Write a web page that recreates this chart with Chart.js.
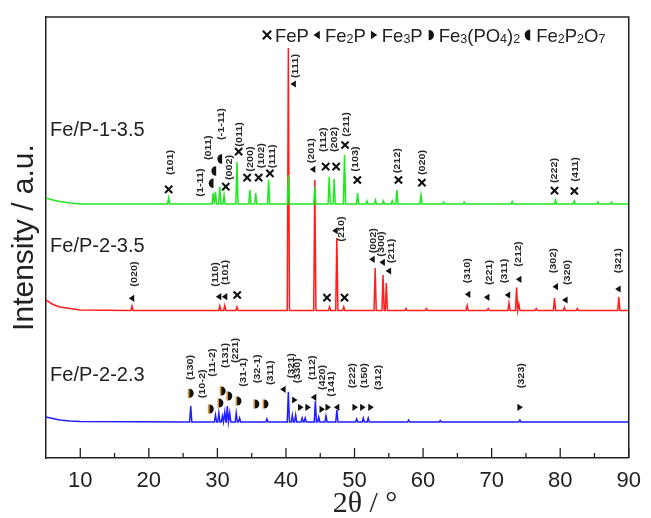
<!DOCTYPE html>
<html><head><meta charset="utf-8">
<script src="https://cdn.jsdelivr.net/npm/chart.js@4.4.1/dist/chart.umd.min.js"></script>
<style>html,body{margin:0;padding:0;background:#fff;} #wrap{width:651px;height:518px;}</style>
</head><body><div id="wrap"><canvas id="c" width="651" height="518"></canvas></div>
<script>
// ================= DATA =================
const sampleNames = ['Fe/P-1-3.5', 'Fe/P-2-3.5', 'Fe/P-2-2.3'];
const sampleLabel2T = [5.6, 5.6, 5.6];
const sampleLabelI = [328, 212, 83];

const xTickValues = [10, 20, 30, 40, 50, 60, 70, 80, 90];
const xMinorValues = [15, 25, 35, 45, 55, 65, 75, 85];

// background (baseline) knots, 2θ and intensity (a.u.)
const greenBg2T = [5, 6, 7, 8.5, 10, 90];
const greenBgI  = [260, 258, 256.5, 255, 254, 254];
const redBg2T   = [5, 6, 7, 8.5, 10, 90];
const redBgI    = [158, 153.5, 151, 149.5, 148, 147.5];
const blueBg2T  = [5, 6, 7, 8.5, 10, 90];
const blueBgI   = [41, 39.5, 38, 37, 36.5, 36];
const greenBase = 254, redBase = 147.5, blueBase = 36;

// peak positions (2θ) and apex intensity (a.u.)
const greenPeak2T = [22.89, 29.39, 29.72, 30.35, 30.97, 32.85, 34.73, 35.59, 37.47, 40.35, 44.21, 46.31, 47.03, 48.54, 50.45, 51.8, 53.05, 54.21, 55.5, 56.18, 59.69, 63.0, 66.0, 73.0, 79.31, 82.06, 85.5, 87.5];
const greenPeakI  = [260, 265, 266.3, 271.3, 263, 296, 268, 265, 278, 283, 271, 281, 279, 303, 265, 257, 258, 257, 257, 268, 263, 256, 256, 256.5, 258, 257, 256, 256];

const redPeak2T = [17.55, 30.35, 31.07, 32.85, 40.35, 44.21, 46.37, 47.42, 48.43, 53.01, 54.16, 54.64, 57.5, 60.5, 66.43, 69.5, 72.53, 73.64, 73.97, 76.5, 79.17, 80.61, 82.5, 88.55];
const redPeakI  = [152, 152, 152.5, 151, 410, 278, 151, 220, 151, 190, 183, 175, 149.5, 149.5, 152.5, 149.5, 155, 170.5, 154, 149.5, 160, 150.5, 149.5, 161];

const bluePeak2T = [26.11, 29.72, 30.21, 30.73, 31.08, 31.45, 31.8, 32.75, 33.24, 37.22, 40.35, 40.93, 41.41, 42.37, 42.81, 44.29, 44.78, 45.84, 47.42, 50.31, 51.28, 52.0, 57.9, 62.5, 74.12];
const bluePeakI  = [52, 43, 45, 42, 46, 52, 45, 45, 40, 39, 66.3, 43, 43, 40, 40, 57, 41, 42, 48, 39, 40, 40, 38, 37.5, 38];

// phase tags: [phase, hkl, marker 2θ, marker I, label 2θ, label I]
const greenTags = [
  ['FeP','(101)',22.89,268.7,23.14,283],
  ['Fe2P2O7','(1-11)',29.14,274.7,27.47,261.3],
  ['Fe2P2O7','(011)',29.53,287,28.67,298],
  ['Fe2P2O7','(-1-11)',30.4,299,30.58,318],
  ['FeP','(002)',31.22,271.3,31.7,278],
  ['FeP','(011)',33.1,306.3,33.24,311.3],
  ['FeP','(200)',34.34,280.3,34.83,286.3],
  ['FeP','(102)',36.02,280.3,36.5,289.7],
  ['FeP','(111)',37.66,284.7,38.05,289.7],
  ['Fe2P','(111)',41.08,374,41.36,380],
  ['Fe2P','(201)',43.92,288.7,43.72,294.7],
  ['FeP','(112)',45.79,291.3,45.5,306],
  ['FeP','(202)',47.32,291.3,47.09,306],
  ['FeP','(211)',48.62,313,48.87,321.3],
  ['FeP','(103)',50.41,278,50.21,286.3],
  ['FeP','(212)',56.41,278,56.33,284.7],
  ['FeP','(020)',59.83,275.3,59.93,283],
  ['FeP','(222)',79.17,267.3,79.17,275],
  ['FeP','(411)',82.06,267,82.3,276.3]
];
const redTags = [
  ['Fe2P','(020)',17.51,159.7,17.84,171.3],
  ['Fe2P','(110)',30.21,161.3,29.72,171.3],
  ['Fe2P','(101)',31.08,161.3,31.22,173],
  ['FeP','',32.89,163,0,0],
  ['FeP','',45.98,160.3,0,0],
  ['FeP','',48.54,160.3,0,0],
  ['Fe2P','(210)',47.18,227.3,48.1,216.3],
  ['Fe2P','(002)',52.58,198.7,52.72,204.7],
  ['Fe2P','(300)',54.06,195.7,53.92,201.3],
  ['Fe2P','(211)',54.97,187,55.36,194.7],
  ['Fe2P','(310)',66.52,163.7,66.52,174.7],
  ['Fe2P','(221)',69.31,160.7,69.65,173],
  ['Fe2P','(311)',72.34,163,71.95,174.7],
  ['Fe2P','(212)',73.98,178.7,73.88,191.3],
  ['Fe2P','(302)',79.31,171.3,79.07,184.7],
  ['Fe2P','(320)',80.71,158,81.0,173],
  ['Fe2P','(321)',88.45,169,88.45,184.7]
];
const blueTags = [
  ['Fe3PO4','(130)',26.17,64.7,26.02,78],
  ['Fe3PO4','(10-2)',29.1,49,27.8,59.7],
  ['Fe3PO4','(11-2)',30.5,55,29.29,81.3],
  ['Fe3PO4','(131)',30.83,67,31.12,90],
  ['Fe3PO4','(221)',31.8,62,32.6,95],
  ['Fe3PO4','(31-1)',33.14,57,33.82,71.3],
  ['Fe3PO4','(32-1)',35.74,54,35.88,74.7],
  ['Fe3PO4','(311)',37.08,54,37.8,73],
  ['Fe2P','(321)',39.59,68.7,40.83,79.7],
  ['Fe3P','(330)',41.26,58,41.65,74.7],
  ['Fe3P','',42.13,50.7,0,0],
  ['Fe3P','',43.2,50.7,0,0],
  ['Fe2P','(112)',44.06,60.7,43.82,78],
  ['Fe3P','(420)',45.26,48.7,45.36,68],
  ['Fe3P','',46.13,50.7,0,0],
  ['Fe2P','(141)',47.42,50.7,46.7,61.3],
  ['Fe3P','(222)',50.06,50.7,49.73,69.7],
  ['Fe3P','(150)',51.18,50.7,51.51,69.7],
  ['Fe3P','(312)',52.37,50.7,53.44,68],
  ['Fe3P','(323)',74.12,50.7,74.36,69.7]
];

// legend entries: phase code and text parts [text, isSubscript]
const legendPhases = ['FeP','Fe2P','Fe3P','Fe3PO4','Fe2P2O7'];
const legendTexts = [
  [['FeP',0]],
  [['Fe',0],['2',1],['P',0]],
  [['Fe',0],['3',1],['P',0]],
  [['Fe',0],['3',1],['(PO',0],['4',1],[')',0],['2',1]],
  [['Fe',0],['2',1],['P',0],['2',1],['O',0],['7',1]]
];

// ================= BUILD =================
const HW = 0.16;
function buildTrace(bg2T, bgI, base, pk2T, pkI) {
  const pts = bg2T.map((x, i) => ({x: x, y: bgI[i]}));
  pk2T.forEach((x, i) => {
    pts.push({x: x - HW, y: base}, {x: x, y: pkI[i]}, {x: x + HW, y: base});
  });
  pts.sort((a, b) => a.x - b.x);
  return pts;
}

const SANS = '"Liberation Sans", Arial, sans-serif';
const SERIF = '"Liberation Serif", "Times New Roman", serif';
const INK = '#222';

function drawMarker(ctx, phase, cx, cy, big) {
  const k = big ? 1.15 : 1;
  ctx.save();
  ctx.fillStyle = '#111';
  ctx.strokeStyle = '#111';
  if (phase === 'FeP') {
    const s = 3.6 * k;
    ctx.lineWidth = 2.1;
    ctx.lineCap = 'butt';
    ctx.beginPath();
    ctx.moveTo(cx - s, cy - s); ctx.lineTo(cx + s, cy + s);
    ctx.moveTo(cx + s, cy - s); ctx.lineTo(cx - s, cy + s);
    ctx.stroke();
  } else if (phase === 'Fe2P') {
    ctx.beginPath();
    ctx.moveTo(cx - 3 * k, cy); ctx.lineTo(cx + 2.5 * k, cy - 3.6 * k); ctx.lineTo(cx + 2.5 * k, cy + 3.6 * k);
    ctx.closePath(); ctx.fill();
  } else if (phase === 'Fe3P') {
    ctx.beginPath();
    ctx.moveTo(cx + 3 * k, cy); ctx.lineTo(cx - 2.5 * k, cy - 3.6 * k); ctx.lineTo(cx - 2.5 * k, cy + 3.6 * k);
    ctx.closePath(); ctx.fill();
  } else if (phase === 'Fe3PO4') {
    const r = 4.6 * k;
    ctx.beginPath();
    ctx.arc(cx - 2, cy, r, -Math.PI / 2, Math.PI / 2);
    ctx.closePath(); ctx.fill();
    if (!big) {
      ctx.strokeStyle = '#d9953a'; ctx.lineWidth = 1.6;
      ctx.beginPath(); ctx.moveTo(cx - 2.6, cy - r); ctx.lineTo(cx - 2.6, cy + r); ctx.stroke();
    }
  } else if (phase === 'Fe2P2O7') {
    const r = 4.8 * k;
    ctx.beginPath();
    ctx.arc(cx + 2, cy, r, Math.PI / 2, Math.PI * 1.5);
    ctx.closePath(); ctx.fill();
  }
  ctx.restore();
}

function drawHKL(ctx, text, lx, ly) {
  ctx.save();
  ctx.translate(lx, ly);
  ctx.rotate(-Math.PI / 2);
  ctx.scale(1.2, 1);
  ctx.font = 'bold 9px ' + SANS;
  ctx.fillStyle = '#2a2a2a';
  ctx.textAlign = 'left';
  ctx.textBaseline = 'middle';
  ctx.fillText(text, 0, 0);
  ctx.restore();
}

const decor = {
  id: 'decor',
  afterDatasetsDraw(chart) {
    const ctx = chart.ctx;
    const xs = chart.scales.x, ys = chart.scales.y;
    const a = chart.chartArea;
    // frame top/right
    ctx.save();
    ctx.strokeStyle = INK; ctx.lineWidth = 1.5;
    ctx.beginPath();
    ctx.moveTo(a.left, a.top); ctx.lineTo(a.right, a.top); ctx.lineTo(a.right, a.bottom);
    ctx.stroke();
    // inward ticks
    ctx.lineWidth = 1.3;
    ctx.beginPath();
    xTickValues.forEach(v => { const p = xs.getPixelForValue(v); ctx.moveTo(p, a.bottom); ctx.lineTo(p, a.bottom - 10); });
    xMinorValues.forEach(v => { const p = xs.getPixelForValue(v); ctx.moveTo(p, a.bottom); ctx.lineTo(p, a.bottom - 5); });
    ctx.stroke();
    ctx.restore();

    // phase tags
    [greenTags, redTags, blueTags].forEach(list => {
      list.forEach(t => {
        const mx = xs.getPixelForValue(t[2]), my = ys.getPixelForValue(t[3]);
        drawMarker(ctx, t[0], mx, my, false);
        if (t[1]) drawHKL(ctx, t[1], xs.getPixelForValue(t[4]), ys.getPixelForValue(t[5]));
      });
    });

    // sample names
    ctx.save();
    ctx.font = '20px ' + SANS;
    ctx.fillStyle = INK;
    ctx.textAlign = 'left';
    ctx.textBaseline = 'middle';
    sampleNames.forEach((n, i) => {
      ctx.fillText(n, xs.getPixelForValue(sampleLabel2T[i]), ys.getPixelForValue(sampleLabelI[i]));
    });
    ctx.restore();

    // legend (sequential layout)
    const ly = 35;
    let mx = 267;
    ctx.save();
    ctx.fillStyle = INK;
    ctx.textBaseline = 'alphabetic';
    legendPhases.forEach((ph, i) => {
      drawMarker(ctx, ph, mx, ly, true);
      let x = mx + 8;
      legendTexts[i].forEach(part => {
        if (part[1]) {
          ctx.font = '12.5px ' + SANS;
          ctx.fillText(part[0], x, ly + 8);
        } else {
          ctx.font = '18.5px ' + SANS;
          ctx.fillText(part[0], x, ly + 7);
        }
        x += ctx.measureText(part[0]).width;
      });
      mx = x + 8;
    });
    ctx.restore();

    // x axis title
    ctx.save();
    ctx.font = '30px ' + SERIF;
    ctx.fillStyle = INK;
    ctx.textAlign = 'center';
    ctx.textBaseline = 'middle';
    ctx.fillText('2\u03b8 / \u00b0', 365, 504);
    ctx.restore();
  }
};

const ctx = document.getElementById('c').getContext('2d');
new Chart(ctx, {
  type: 'scatter',
  data: {
    datasets: [
      {label: sampleNames[0], data: buildTrace(greenBg2T, greenBgI, greenBase, greenPeak2T, greenPeakI), borderColor: '#1ee81e', showLine: true, pointRadius: 0, borderWidth: 1.5, tension: 0},
      {label: sampleNames[1], data: buildTrace(redBg2T, redBgI, redBase, redPeak2T, redPeakI), borderColor: '#ff1e1e', showLine: true, pointRadius: 0, borderWidth: 1.5, tension: 0},
      {label: sampleNames[2], data: buildTrace(blueBg2T, blueBgI, blueBase, bluePeak2T, bluePeakI), borderColor: '#1e1eff', showLine: true, pointRadius: 0, borderWidth: 1.5, tension: 0}
    ]
  },
  options: {
    responsive: false,
    animation: false,
    devicePixelRatio: 1,
    layout: {padding: {top: 17, right: 16, left: 0, bottom: 0}},
    plugins: {legend: {display: false}, tooltip: {enabled: false}},
    scales: {
      x: {
        type: 'linear', min: 5, max: 90,
        grid: {display: false, drawTicks: false},
        border: {color: INK, width: 1.5},
        ticks: {font: {family: SANS, size: 22}, color: INK, padding: 10, maxRotation: 0, autoSkip: false},
        afterBuildTicks: s => { s.ticks = xTickValues.map(v => ({value: v})); },
        afterFit: s => { s.height = 60; }
      },
      y: {
        type: 'linear', min: 0, max: 441,
        grid: {display: false, drawTicks: false},
        border: {color: INK, width: 1.5},
        ticks: {display: false},
        title: {display: true, text: 'Intensity / a.u.', font: {family: SANS, size: 30}, color: INK, padding: {top: 7, bottom: 0}},
        afterFit: s => { s.width = 46; }
      }
    }
  },
  plugins: [decor]
});
</script>
</body></html>
